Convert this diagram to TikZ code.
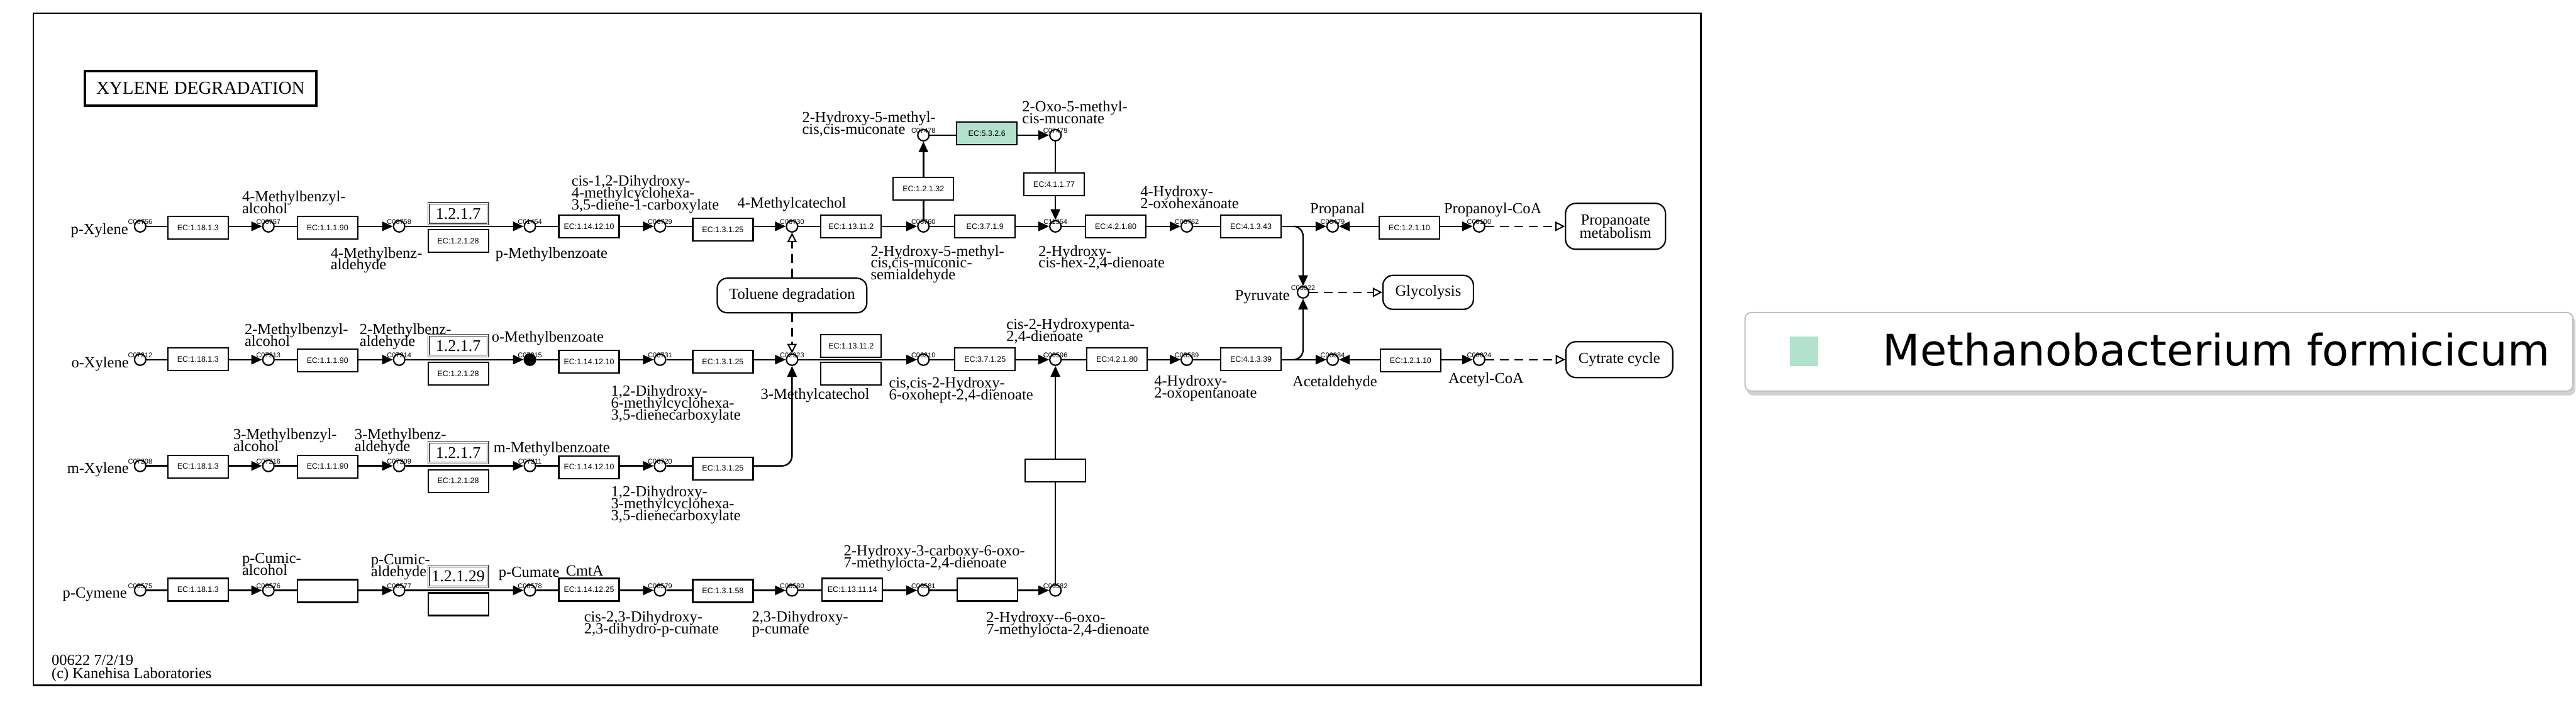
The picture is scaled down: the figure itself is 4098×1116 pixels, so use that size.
\documentclass[tikz,border=0pt]{standalone}
\usepackage{fontspec}
\setmainfont{Liberation Serif}
\newfontfamily\ecfont{Liberation Sans}
\newfontfamily\legfont{DejaVu Sans}
\usetikzlibrary{arrows.meta}
\definecolor{mfgreen}{RGB}{178,226,205}
\pgfdeclarelayer{back}
\pgfdeclarelayer{bg}
\pgfsetlayers{back,bg,main}
\tikzset{
  ec/.style={draw, line width=2.2pt, fill=white, minimum width=96pt, minimum height=36pt, inner sep=0pt, font=\ecfont\fontsize{12.5}{14}\selectfont},
  ecg/.style={ec, fill=mfgreen},
  ecn/.style={draw=black!70, double=white, double distance=1.5pt, line width=1.3pt, fill=white, minimum width=94pt, minimum height=33pt, inner sep=0pt, font=\fontsize{26}{28}\selectfont},
  cpd/.style={circle, draw, line width=2.2pt, fill=white, minimum size=18pt, inner sep=0pt},
  cid/.style={font=\ecfont\fontsize{11}{12}\selectfont, inner sep=0pt, yshift=7pt},
  nm/.style={font={\fontsize{24.5}{19}\selectfont\lineskiplimit=-50pt\relax}, inner sep=0pt, align=left, anchor=north west},
  nmr/.style={font=\fontsize{24.5}{19}\selectfont, inner sep=0pt, anchor=base east},
  mapbox/.style={draw, line width=2.2pt, rounded corners=16pt, fill=white, align=center, inner sep=0pt, font={\fontsize{24.5}{21}\selectfont\lineskiplimit=-50pt\relax}},
  conn/.style={line width=2.4pt},
  rxn/.style={conn, -{Triangle[length=17pt,width=15pt]}},
  rxnb/.style={conn, {Triangle[length=17pt,width=15pt]}-{Triangle[length=17pt,width=15pt]}},
  lnk/.style={line width=2.2pt, dash pattern=on 14pt off 9pt, -{Triangle[open,length=15pt,width=15pt,line width=2pt]}},
}
\newcommand{\kcpd}[4][]{\node[cpd,#1,label={[cid]center:#4}] (#2) at (#3) {};}
\begin{document}
\begin{tikzpicture}[x=1pt,y=-1pt]
\useasboundingbox (0,0) rectangle (4098,1116);
\begin{pgfonlayer}{back}
\fill[white] (0,0) rectangle (4098,1116);
\end{pgfonlayer}
\draw[line width=2.6pt] (53,21) rectangle (2706,1090);
\node[draw, line width=3.5pt, minimum width=368pt, minimum height=55pt, inner sep=0pt, font=\fontsize{29}{30}\selectfont] (title) at (319,140.5) {XYLENE\hspace{8pt}DEGRADATION};

% ---------- row 1: p-xylene
\node[nmr] (npx) at (204,373) {p-Xylene};
\kcpd{a1}{223,360}{C06756}
\node[ec] (ea1) at (315,362) {EC:1.18.1.3};
\kcpd{a2}{427,360}{C06757}
\node[nm] (na2) at (385,303) {4-Methylbenzyl-\\alcohol};
\node[ec] (ea2) at (521,362) {EC:1.1.1.90};
\kcpd{a3}{635,360}{C06758}
\node[nm] (na3) at (526,393) {4-Methylbenz-\\aldehyde};
\node[ecn] (ea3) at (729,340) {1.2.1.7};
\node[ec] (ea3b) at (729,383) {EC:1.2.1.28};
\kcpd{a4}{843,360}{C01454}
\node[nm] (na4) at (788,393) {p-Methylbenzoate};
\node[ec] (ea4) at (937,360) {EC:1.14.12.10};
\kcpd{a5}{1050,360}{C06729}
\node[nm] (na5) at (909,278) {cis-1,2-Dihydroxy-\\4-methylcyclohexa-\\3,5-diene-1-carboxylate};
\node[ec] (ea5) at (1150,365) {EC:1.3.1.25};
\kcpd{a6}{1260,360}{C06730}
\node[nm] (na6) at (1173,313) {4-Methylcatechol};
\node[ec] (ea6) at (1354,360) {EC:1.13.11.2};
\kcpd{a7}{1469,360}{C06760}
\node[nm] (na7) at (1385,390) {2-Hydroxy-5-methyl-\\cis,cis-muconic-\\semialdehyde};
\node[ec] (ea7) at (1567,360) {EC:3.7.1.9};
\kcpd{a8}{1679,360}{C11354}
\node[nm] (na8) at (1652,390) {2-Hydroxy-\\cis-hex-2,4-dienoate};
\node[ec] (ea8) at (1775,360) {EC:4.2.1.80};
\kcpd{a9}{1888,360}{C06762}
\node[nm] (na9) at (1814,295) {4-Hydroxy-\\2-oxohexanoate};
\node[ec] (ea9) at (1990,360) {EC:4.1.3.43};
\kcpd{a10}{2120,360}{C00479}
\node[nm] (na10) at (2084,322) {Propanal};
\node[ec] (ea10) at (2242,362) {EC:1.2.1.10};
\kcpd{a11}{2353,360}{C00100}
\node[nm] (na11) at (2297,322) {Propanoyl-CoA};
\node[mapbox, minimum width=159pt, minimum height=73pt] (mprop) at (2570,360) {Propanoate\\metabolism};

% ---------- upper branch
\node[ec] (eu1) at (1469,300) {EC:1.2.1.32};
\kcpd{u1}{1469,215}{C07478}
\node[nm] (nu1) at (1276,177) {2-Hydroxy-5-methyl-\\cis,cis-muconate};
\node[ecg] (eu2) at (1570,212) {EC:5.3.2.6};
\kcpd{u2}{1679,215}{C07479}
\node[nm] (nu2) at (1626,160) {2-Oxo-5-methyl-\\cis-muconate};
\node[ec] (eu3) at (1677,293) {EC:4.1.1.77};

\node[mapbox, minimum width=238pt, minimum height=55pt] (mtol) at (1260,470) {Toluene degradation};

% ---------- row 2: o-xylene
\node[nmr] (nox) at (205,585) {o-Xylene};
\kcpd{b1}{223,572}{C07212}
\node[ec] (eb1) at (315,571) {EC:1.18.1.3};
\kcpd{b2}{427,572}{C07213}
\node[nm] (nb2) at (389,515) {2-Methylbenzyl-\\alcohol};
\node[ec] (eb2) at (521,573) {EC:1.1.1.90};
\kcpd{b3}{635,572}{C07214}
\node[nm] (nb3) at (572,515) {2-Methylbenz-\\aldehyde};
\node[ecn] (eb3) at (729,550) {1.2.1.7};
\node[ec] (eb3b) at (729,594) {EC:1.2.1.28};
\kcpd[fill=black]{b4}{843,572}{C07215}
\node[nm] (nb4) at (782,527) {o-Methylbenzoate};
\node[ec] (eb4) at (937,575) {EC:1.14.12.10};
\kcpd{b5}{1050,572}{C06731}
\node[nm] (nb5) at (972,613) {1,2-Dihydroxy-\\6-methylcyclohexa-\\3,5-dienecarboxylate};
\node[ec] (eb5) at (1150,575) {EC:1.3.1.25};
\kcpd{b6}{1260,572}{C02923}
\node[nm] (nb6) at (1210,618) {3-Methylcatechol};
\node[ec] (eb6) at (1354,550) {EC:1.13.11.2};
\node[ec] (eb6b) at (1354,594) {};
\kcpd{b7}{1469,572}{C06210}
\node[nm] (nb7) at (1414,600) {cis,cis-2-Hydroxy-\\6-oxohept-2,4-dienoate};
\node[ec] (eb7) at (1567,571) {EC:3.7.1.25};
\kcpd{b8}{1679,572}{C00596}
\node[nm] (nb8) at (1601,507) {cis-2-Hydroxypenta-\\2,4-dienoate};
\node[ec] (eb8) at (1777,571) {EC:4.2.1.80};
\kcpd{b9}{1888,572}{C03589}
\node[nm] (nb9) at (1836,597) {4-Hydroxy-\\2-oxopentanoate};
\node[ec] (eb9) at (1990,571) {EC:4.1.3.39};
\kcpd{b10}{2120,572}{C00084}
\node[nm] (nb10) at (2056,598) {Acetaldehyde};
\node[ec] (eb10) at (2244,573) {EC:1.2.1.10};
\kcpd{b11}{2353,572}{C00024}
\node[nm] (nb11) at (2304,593) {Acetyl-CoA};
\node[mapbox, minimum width=170pt, minimum height=57pt] (mtca) at (2576,572) {Cytrate cycle};

% ---------- pyruvate
\kcpd{py}{2073,465}{C00022}
\node[nmr] (npy) at (2052,478) {Pyruvate};
\node[mapbox, minimum width=144pt, minimum height=54pt] (mgly) at (2272,465) {Glycolysis};
\coordinate (br1) at (2058,360);
\coordinate (br1v) at (2073,376);
\coordinate (br2) at (2058,572);
\coordinate (br2v) at (2073,556);

% ---------- row 3: m-xylene
\node[nmr] (nmx) at (205,753) {m-Xylene};
\kcpd{m1}{223,741}{C07208}
\node[ec] (em1) at (315,742) {EC:1.18.1.3};
\kcpd{m2}{427,741}{C07216}
\node[nm] (nm2) at (371,682) {3-Methylbenzyl-\\alcohol};
\node[ec] (em2) at (521,742) {EC:1.1.1.90};
\kcpd{m3}{635,741}{C07209}
\node[nm] (nm3) at (564,682) {3-Methylbenz-\\aldehyde};
\node[ecn] (em3) at (729,720) {1.2.1.7};
\node[ec] (em3b) at (729,765) {EC:1.2.1.28};
\kcpd{m4}{843,741}{C07211}
\node[nm] (nm4) at (785,703) {m-Methylbenzoate};
\node[ec] (em4) at (937,743) {EC:1.14.12.10};
\kcpd{m5}{1050,741}{C06720}
\node[nm] (nm5) at (972,773) {1,2-Dihydroxy-\\3-methylcyclohexa-\\3,5-dienecarboxylate};
\node[ec] (em5) at (1150,745) {EC:1.3.1.25};
\coordinate (mb) at (1244,741);
\coordinate (mv) at (1260,725);

% ---------- row 4: p-cymene
\node[nmr] (npc) at (202,951) {p-Cymene};
\kcpd{q1}{223,939}{C06575}
\node[ec] (eq1) at (315,938) {EC:1.18.1.3};
\kcpd{q2}{427,939}{C06576}
\node[nm] (nq2) at (385,880) {p-Cumic-\\alcohol};
\node[ec] (eq2) at (521,940) {};
\kcpd{q3}{635,939}{C06577}
\node[nm] (nq3) at (590,882) {p-Cumic-\\aldehyde};
\node[ecn] (eq3) at (729,917) {1.2.1.29};
\node[ec] (eq3b) at (729,961) {};
\kcpd{q4}{843,939}{C06578}
\node[nm] (nq4) at (793,902) {p-Cumate};
\node[nm] (nq4b) at (900,900) {CmtA};
\node[ec] (eq4) at (937,938) {EC:1.14.12.25};
\kcpd{q5}{1050,939}{C06579}
\node[nm] (nq5) at (929,972) {cis-2,3-Dihydroxy-\\2,3-dihydro-p-cumate};
\node[ec] (eq5) at (1150,940) {EC:1.3.1.58};
\kcpd{q6}{1260,939}{C06580}
\node[nm] (nq6) at (1196,972) {2,3-Dihydroxy-\\p-cumate};
\node[ec] (eq6) at (1356,938) {EC:1.13.11.14};
\kcpd{q7}{1469,939}{C06581}
\node[nm] (nq7) at (1342,867) {2-Hydroxy-3-carboxy-6-oxo-\\7-methylocta-2,4-dienoate};
\node[ec] (eq7) at (1571,938) {};
\kcpd{q8}{1679,939}{C06582}
\node[nm] (nq8) at (1569,973) {2-Hydroxy-{}-6-oxo-\\7-methylocta-2,4-dienoate};
\node[ec] (eq8) at (1679,748) {};

% ---------- footer
\node[nm, font={\fontsize{24.5}{21}\selectfont\lineskiplimit=-50pt\relax}] (foot) at (82,1042) {00622 7/2/19\\(c) Kanehisa Laboratories};

% ---------- legend
\fill[black!18, rounded corners=10pt] (2779,503) rectangle (4097,629);
\filldraw[fill=white, draw=black!25, line width=2pt, rounded corners=10pt] (2776,497) rectangle (4093,622);
\fill[mfgreen] (2847,535) rectangle (2892,582);
\node[font=\legfont\fontsize{69}{80}\selectfont, anchor=base west, inner sep=0pt] (leg) at (2995,582) {Methanobacterium formicicum};

% ---------- connectors
\begin{pgfonlayer}{bg}
\draw[rxn] (a1) -- (a2);
\draw[rxn] (a2) -- (a3);
\draw[rxn] (a3) -- (a4);
\draw[rxn] (a4) -- (a5);
\draw[rxn] (a5) -- (a6);
\draw[rxn] (a6) -- (a7);
\draw[rxn] (a7) -- (a8);
\draw[rxn] (a8) -- (a9);
\draw[rxn] (a9) -- (a10);
\draw[rxnb] (a10) -- (a11);
\draw[rxn] (a7) -- (u1);
\draw[rxn] (u1) -- (u2);
\draw[rxn] (u2) -- (a8);
\draw[rxn] (br1) to[out=0,in=90] (br1v) -- (py);
\draw[rxn] (br2) to[out=0,in=-90] (br2v) -- (py);
\draw[lnk] (a11) -- (mprop);
\draw[lnk] (b11) -- (mtca);
\draw[lnk] (py) -- (mgly);
\draw[lnk] (mtol) -- (a6);
\draw[lnk] (mtol) -- (b6);
\draw[rxn] (b1) -- (b2);
\draw[rxn] (b2) -- (b3);
\draw[rxn] (b3) -- (b4);
\draw[rxn] (b4) -- (b5);
\draw[rxn] (b5) -- (b6);
\draw[rxn] (b6) -- (b7);
\draw[rxn] (b7) -- (b8);
\draw[rxn] (b8) -- (b9);
\draw[rxn] (b9) -- (b10);
\draw[rxnb] (b10) -- (b11);
\draw[rxn] (m1) -- (m2);
\draw[rxn] (m2) -- (m3);
\draw[rxn] (m3) -- (m4);
\draw[rxn] (m4) -- (m5);
\draw[rxn] (m5) -- (mb) to[out=0,in=-90] (mv) -- (b6);
\draw[rxn] (q1) -- (q2);
\draw[rxn] (q2) -- (q3);
\draw[rxn] (q3) -- (q4);
\draw[rxn] (q4) -- (q5);
\draw[rxn] (q5) -- (q6);
\draw[rxn] (q6) -- (q7);
\draw[rxn] (q7) -- (q8);
\draw[rxn] (q8) -- (b8);
\end{pgfonlayer}
\end{tikzpicture}
\end{document}
